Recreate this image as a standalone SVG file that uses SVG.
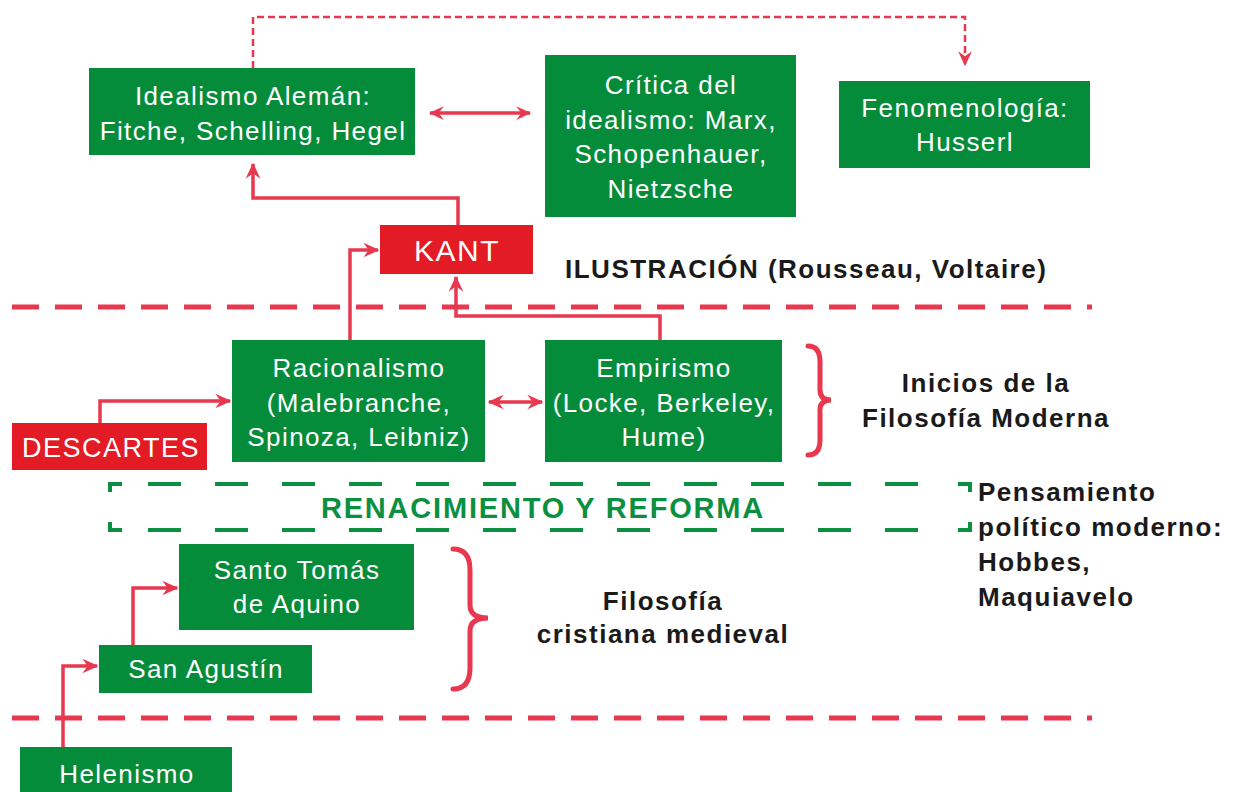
<svg xmlns="http://www.w3.org/2000/svg" width="1239" height="792" viewBox="0 0 1239 792">
<style>
.g{fill:#058c3b}
.r{fill:#e31b25}
.t{font-family:"Liberation Sans",Arial,sans-serif;font-size:26px;letter-spacing:1.4px;fill:#fff;text-anchor:middle}
.b{font-family:"Liberation Sans",Arial,sans-serif;font-size:26px;letter-spacing:1.5px;font-weight:bold;fill:#1a1a1a}
.c{fill:none;stroke:#e8384f;stroke-width:3.5}
.sep{fill:none;stroke:#e8384f;stroke-width:5;stroke-dasharray:27 16}
.br{fill:none;stroke:#e8384f;stroke-width:5;stroke-linecap:round}
.gd{fill:none;stroke:#0a9040;stroke-width:4}
</style>
<defs>
<marker id="ah" viewBox="0 0 12 12" refX="11" refY="6" markerWidth="16" markerHeight="16" markerUnits="userSpaceOnUse" orient="auto-start-reverse">
<path d="M0,0.5 L12,6 L0,11.5 L4,6 z" fill="#e8384f"/>
</marker>
<marker id="ahs" viewBox="0 0 12 12" refX="11" refY="6" markerWidth="15" markerHeight="15" markerUnits="userSpaceOnUse" orient="auto-start-reverse">
<path d="M0,0.5 L12,6 L0,11.5 L4,6 z" fill="#e8384f"/>
</marker>
</defs>

<!-- separators -->
<line class="sep" x1="12" y1="307" x2="1092" y2="307"/>
<line class="sep" x1="12" y1="718" x2="1092" y2="718"/>

<!-- connectors -->
<g id="connectors">
<path d="M253,68 V17 H965 V65" fill="none" stroke="#e8384f" stroke-width="2.5" stroke-dasharray="7 4" marker-end="url(#ahs)"/>
<line class="c" x1="430" y1="113" x2="530" y2="113" marker-start="url(#ahs)" marker-end="url(#ahs)"/>
<path class="c" d="M458,225 V198 H253 V164" marker-end="url(#ah)"/>
<path class="c" d="M350,340 V250 H378" marker-end="url(#ah)"/>
<path class="c" d="M660,340 V316 H456 V277" marker-end="url(#ah)"/>
<line class="c" x1="489" y1="402" x2="542" y2="402" marker-start="url(#ah)" marker-end="url(#ah)"/>
<path class="c" d="M100,423 V401 H230" marker-end="url(#ah)"/>
<path class="c" d="M133,645 V588 H177" marker-end="url(#ah)"/>
<path class="c" d="M63,747 V666 H97" marker-end="url(#ah)"/>
</g>

<g id="idealismo">
<rect class="g" x="89" y="68" width="326" height="87"/>
<text class="t" x="253" y="105">Idealismo Alemán:</text>
<text class="t" x="253" y="140">Fitche, Schelling, Hegel</text>
</g>
<g id="critica">
<rect class="g" x="545" y="55" width="251" height="162"/>
<text class="t" x="671" y="94">Crítica del</text>
<text class="t" x="671" y="129">idealismo: Marx,</text>
<text class="t" x="671" y="163">Schopenhauer,</text>
<text class="t" x="671" y="198">Nietzsche</text>
</g>
<g id="fenomenologia">
<rect class="g" x="839" y="81" width="251" height="87"/>
<text class="t" x="965" y="117">Fenomenología:</text>
<text class="t" x="965" y="151">Husserl</text>
</g>
<g id="kant">
<rect class="r" x="380" y="225" width="153" height="49"/>
<text class="t" x="457" y="261" style="font-size:30px;letter-spacing:1.5px">KANT</text>
</g>
<g id="ilustracion">
<text class="b" x="565" y="278">ILUSTRACIÓN (Rousseau, Voltaire)</text>
</g>
<g id="racionalismo">
<rect class="g" x="232" y="340" width="253" height="122"/>
<text class="t" x="359" y="377">Racionalismo</text>
<text class="t" x="359" y="412">(Malebranche,</text>
<text class="t" x="359" y="446">Spinoza, Leibniz)</text>
</g>
<g id="empirismo">
<rect class="g" x="545" y="340" width="237" height="122"/>
<text class="t" x="664" y="377">Empirismo</text>
<text class="t" x="664" y="412">(Locke, Berkeley,</text>
<text class="t" x="664" y="446">Hume)</text>
</g>
<g id="descartes">
<rect class="r" x="12" y="423" width="195" height="47"/>
<text class="t" x="111" y="457" style="font-size:27px;letter-spacing:1.5px">DESCARTES</text>
</g>
<g id="inicios">
<path class="br" d="M808,346 Q820,346 820,362 L820,390 Q820,400 831,400 Q820,400 820,410 L820,440 Q820,455 808,455"/>
<text class="b" x="986" y="392" text-anchor="middle">Inicios de la</text>
<text class="b" x="986" y="427" text-anchor="middle">Filosofía Moderna</text>
</g>
<g id="renacimiento">
<path class="gd" d="M110,492 V484 H122 M110,522 V530 H122 M958,484 H970 V492 M958,530 H970 V522"/>
<line class="gd" x1="148" y1="484" x2="940" y2="484" stroke-dasharray="33 34"/>
<line class="gd" x1="148" y1="530" x2="940" y2="530" stroke-dasharray="33 34"/>
<text x="543" y="518" text-anchor="middle" style="font-family:'Liberation Sans',Arial,sans-serif;font-size:29px;letter-spacing:1.8px;font-weight:bold;fill:#0a9040">RENACIMIENTO Y REFORMA</text>
</g>
<g id="pensamiento">
<text class="b" x="978" y="501">Pensamiento</text>
<text class="b" x="978" y="536">político moderno:</text>
<text class="b" x="978" y="571">Hobbes,</text>
<text class="b" x="978" y="606">Maquiavelo</text>
</g>
<g id="santotomas">
<rect class="g" x="179" y="544" width="235" height="86"/>
<text class="t" x="297" y="579">Santo Tomás</text>
<text class="t" x="297" y="613">de Aquino</text>
</g>
<g id="sanagustin">
<rect class="g" x="99" y="645" width="213" height="48"/>
<text class="t" x="206" y="678">San Agustín</text>
</g>
<g id="cristiana">
<path class="br" d="M453,549 Q470,549 470,570 L470,605 Q470,618 488,618 Q470,618 470,631 L470,668 Q470,689 453,689"/>
<text class="b" x="663" y="610" text-anchor="middle">Filosofía</text>
<text class="b" x="663" y="643" text-anchor="middle">cristiana medieval</text>
</g>
<g id="helenismo">
<rect class="g" x="20" y="747" width="212" height="50"/>
<text class="t" x="127" y="783">Helenismo</text>
</g>
</svg>
